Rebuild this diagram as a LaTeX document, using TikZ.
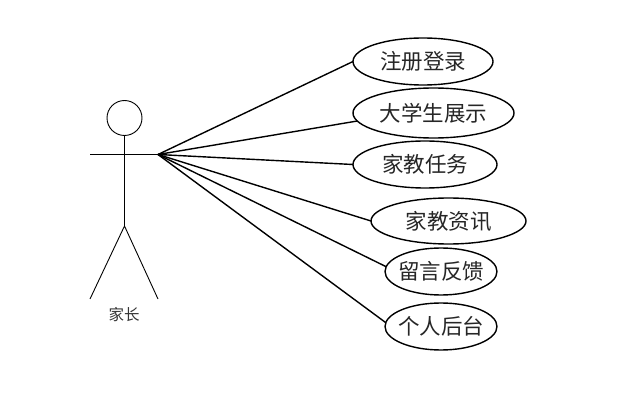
\documentclass[tikz,border=0pt]{standalone}
\usepackage{fontspec}
\setmainfont{Noto Sans CJK SC}
\usetikzlibrary{shapes.geometric}
\newcommand{\uctext}[1]{\makebox[0pt]{#1}}
\tikzset{
  usecase/.style={draw=black,line width=1.4pt,ellipse,inner sep=0pt,outer sep=0pt,font=\fontsize{21.5}{24}\selectfont,text=black!85},
  link/.style={draw=black,line width=1.4pt},
  stick/.style={draw=black,line width=0.9pt},
}
\begin{document}
\begin{tikzpicture}[x=1pt,y=-1pt]
\useasboundingbox (0,0) rectangle (630,401);
\node[stick,circle,minimum size=35pt,inner sep=0pt,outer sep=0pt] (head) at (124.5,118) {};
\coordinate (hip) at (124.5,226);
\coordinate (armL) at (90,154.5);
\coordinate (hub) at (158,154.5);
\coordinate (footL) at (90,299);
\coordinate (footR) at (158,299);
\draw[stick] (head.south) -- (hip);
\draw[stick] (armL) -- (hub);
\draw[stick] (footL) -- (hip) -- (footR);
\node[font=\fontsize{15.5}{18}\selectfont,text=black!80] (actor) at (124,315) {家长};
\node[usecase,minimum width=140pt,minimum height=47pt] (a) at (423,61.5) {\uctext{注册登录}};
\node[usecase,minimum width=161pt,minimum height=50pt] (b) at (433.5,113) {\uctext{大学生展示}};
\node[usecase,minimum width=144pt,minimum height=47pt] (c) at (425,164.5) {\uctext{家教任务}};
\node[usecase,minimum width=155pt,minimum height=46pt] (d) at (448.5,221) {\uctext{家教资讯}};
\node[usecase,minimum width=112pt,minimum height=47pt] (e) at (441,271.5) {\uctext{留言反馈}};
\node[usecase,minimum width=112pt,minimum height=47pt] (f) at (441,326.5) {\uctext{个人后台}};
\draw[link] (hub) -- (a.west);
\draw[link] (hub) -- (b.186);
\draw[link] (hub) -- (c.west);
\draw[link] (hub) -- (d.west);
\draw[link] (hub) -- (e.175);
\draw[link] (hub) -- (f.176);
\end{tikzpicture}
\end{document}
